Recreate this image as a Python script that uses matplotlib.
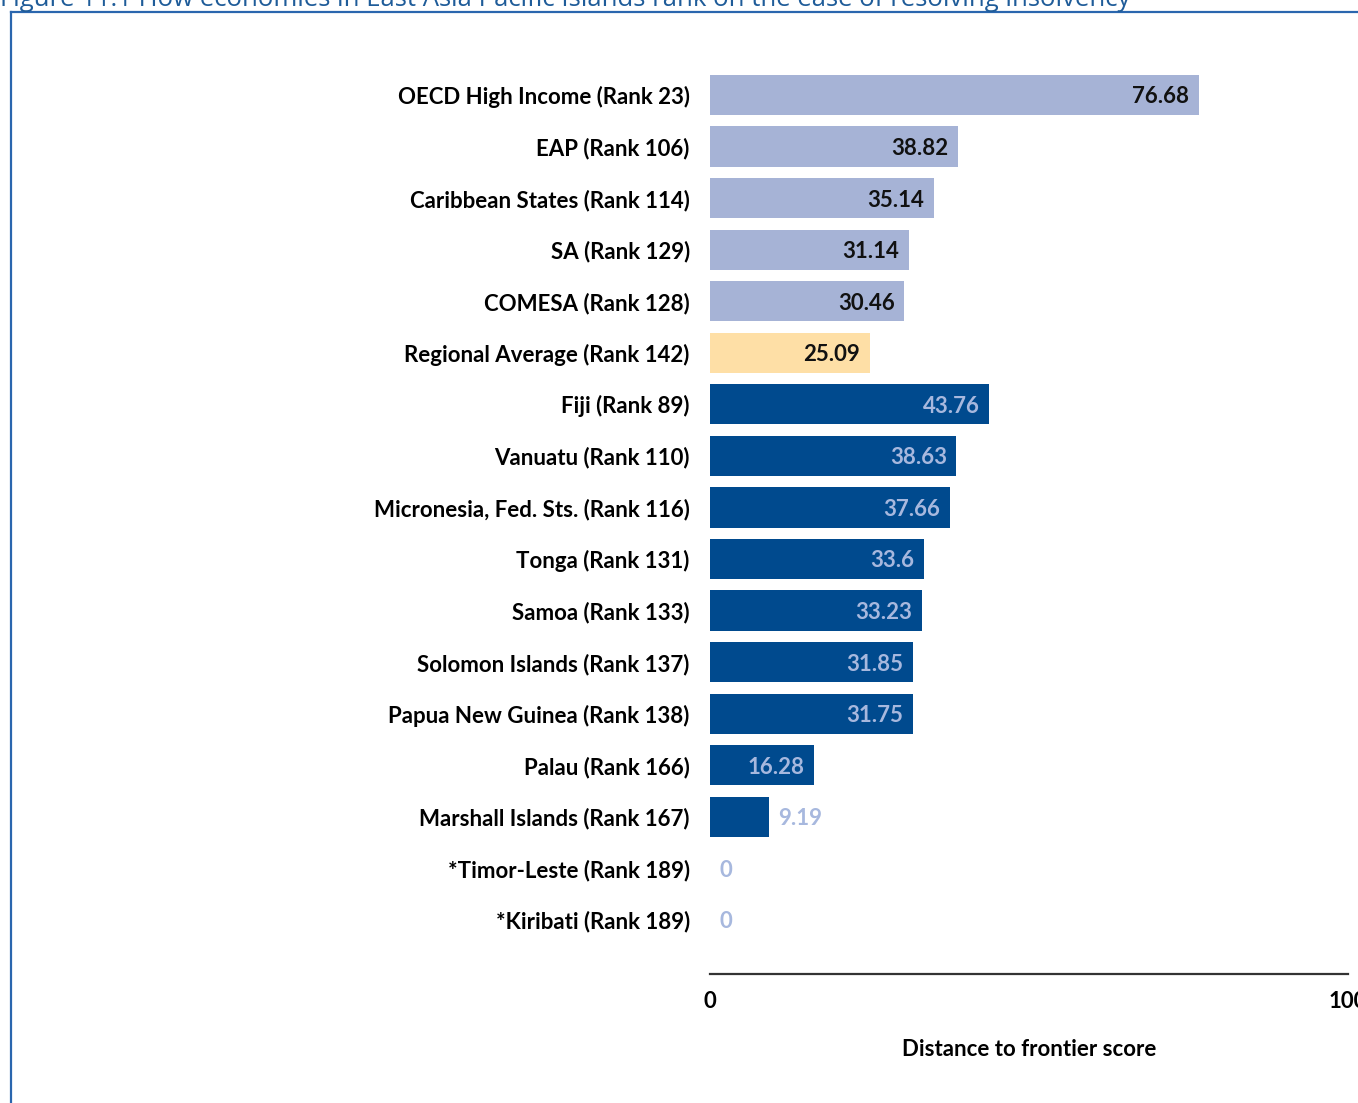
import numpy as np
import matplotlib.pyplot as plt
from matplotlib.lines import Line2D

# =========================================================
# DATA
# =========================================================
labels = [
    "OECD High Income (Rank 23)",
    "EAP (Rank 106)",
    "Caribbean States (Rank 114)",
    "SA (Rank 129)",
    "COMESA (Rank 128)",
    "Regional Average (Rank 142)",
    "Fiji (Rank 89)",
    "Vanuatu (Rank 110)",
    "Micronesia, Fed. Sts. (Rank 116)",
    "Tonga (Rank 131)",
    "Samoa (Rank 133)",
    "Solomon Islands (Rank 137)",
    "Papua New Guinea (Rank 138)",
    "Palau (Rank 166)",
    "Marshall Islands (Rank 167)",
    "*Timor-Leste (Rank 189)",
    "*Kiribati (Rank 189)",
]
scores = [76.68, 38.82, 35.14, 31.14, 30.46, 25.09,
          43.76, 38.63, 37.66, 33.6, 33.23, 31.85, 31.75, 16.28, 9.19, 0, 0]
groups = ["comp"] * 5 + ["avg"] + ["econ"] * 11
score_text = ["76.68", "38.82", "35.14", "31.14", "30.46", "25.09",
              "43.76", "38.63", "37.66", "33.6", "33.23", "31.85", "31.75",
              "16.28", "9.19", "0", "0"]

title = ("Figure 11.1 How economies in East Asia Pacific Islands rank "
         "on the ease of resolving insolvency")

bar_colors = {"comp": "#A6B3D6", "avg": "#FEDFA6", "econ": "#004A8E"}
text_colors = {"comp": "#111111", "avg": "#111111", "econ": "#A7B8DE"}
FONT = "Lato"
FS = 16

# =========================================================
# PLOT
# =========================================================
fig = plt.figure(figsize=(13.58, 11.03), dpi=100)
ax = fig.add_axes([710 / 1358, 1 - 974 / 1103, 638 / 1358, 910 / 1103])

y = np.arange(len(labels))
ax.barh(y, scores, height=0.78,
        color=[bar_colors[g] for g in groups], edgecolor="none")

ax.set_xlim(0, 100)
ax.set_ylim(17.05, -0.6)

for i, (v, t, g) in enumerate(zip(scores, score_text, groups)):
    if v > 12:
        ax.annotate(t, (v, i), xytext=(-7, 0), textcoords="offset points",
                    ha="right", va="center_baseline", fontsize=FS,
                    fontweight="bold", color=text_colors[g], family=FONT)
    else:
        ax.annotate(t, (v, i), xytext=(7, 0), textcoords="offset points",
                    ha="left", va="center_baseline", fontsize=FS,
                    fontweight="bold", color="#A7B8DE", family=FONT)

ax.set_yticks(y)
ax.set_yticklabels(labels, fontsize=FS, fontweight="bold", family=FONT)
ax.tick_params(axis="y", length=0, pad=14.5)

ax.set_xticks([0, 100])
ax.set_xticklabels(["0", "100"], fontsize=FS, fontweight="bold", family=FONT)
ax.tick_params(axis="x", length=0, pad=12)
for lbl in ax.get_xticklabels():
    lbl.set_clip_on(False)

ax.set_xlabel("Distance to frontier score", fontsize=FS, fontweight="bold",
              family=FONT, labelpad=20)

for side in ["top", "right", "left"]:
    ax.spines[side].set_visible(False)
ax.spines["bottom"].set_color("#333333")
ax.spines["bottom"].set_linewidth(1.6)

# frame and cut-off title
fx = 11 / 1358
fy = 1 - 12 / 1103
fig.add_artist(Line2D([fx, fx], [0, fy], color="#2A66AE", lw=1.6,
                      transform=fig.transFigure))
fig.add_artist(Line2D([fx, 1], [fy, fy], color="#2A66AE", lw=1.6,
                      transform=fig.transFigure))
fig.text(0.0, 1 - 6 / 1103, title, fontsize=18.5, color="#1F5C99",
         family="Open Sans", va="baseline", ha="left")

fig.savefig("out.png", dpi=100)
